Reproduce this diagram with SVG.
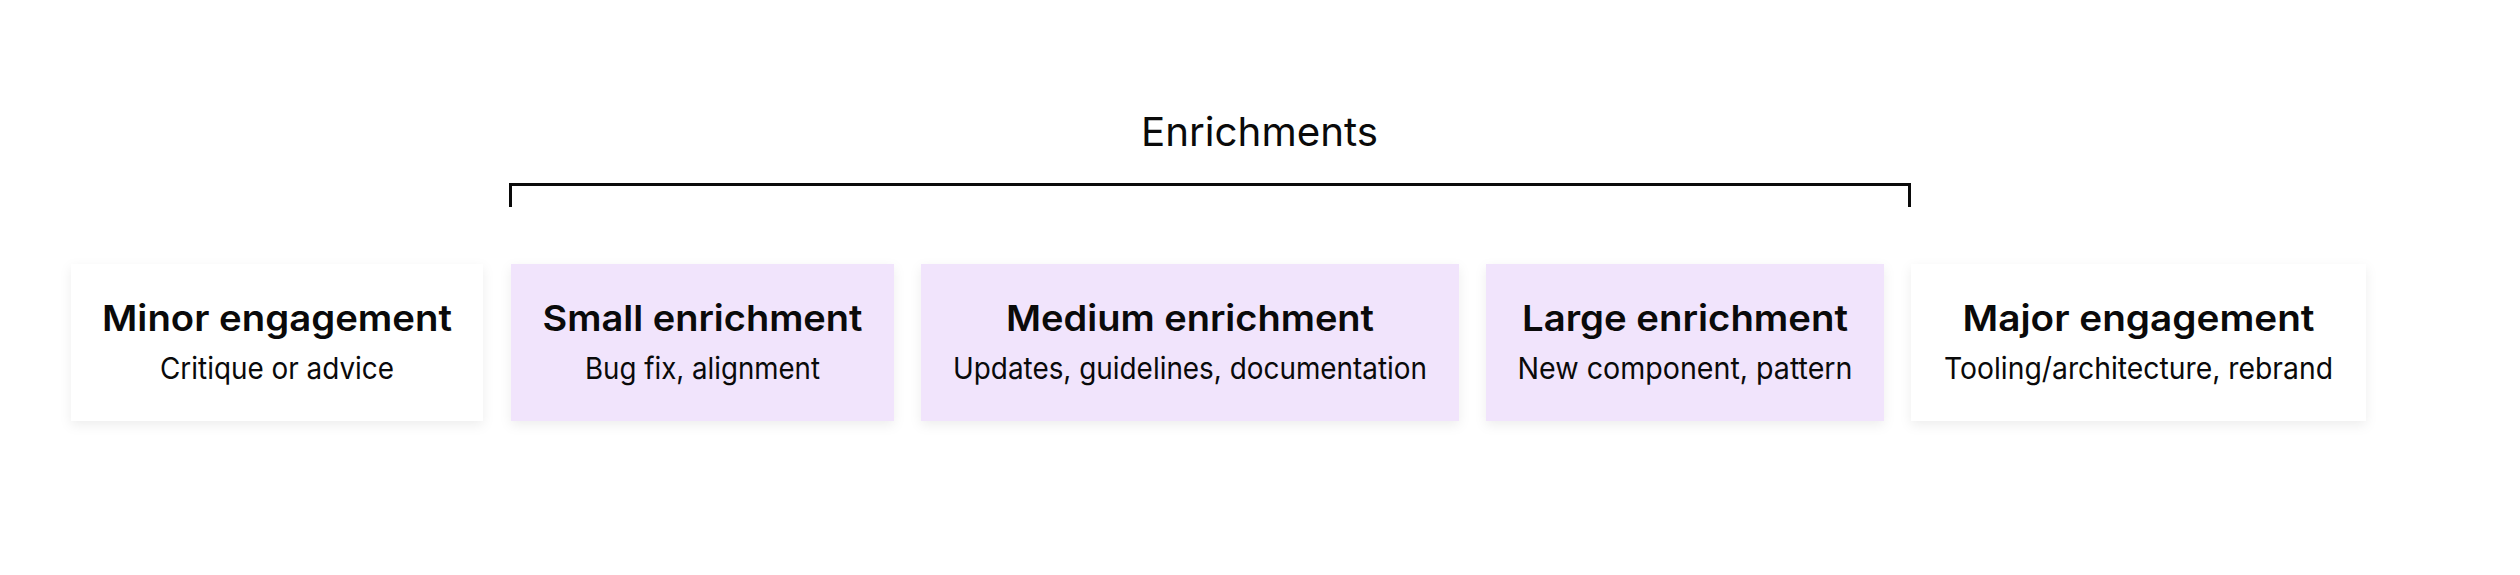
<svg xmlns="http://www.w3.org/2000/svg" width="2520" height="575" viewBox="0 0 2520 575">
<defs>
<filter id="sh" x="-10%" y="-20%" width="120%" height="150%">
<feDropShadow dx="0" dy="4" stdDeviation="6" flood-color="#000" flood-opacity="0.07"/>
</filter>
<style>
.box{filter:url(#sh)}
.w{fill:#ffffff}
.p{fill:#F1E4FC}
.t{font-family:Inter,"Liberation Sans",sans-serif;font-weight:600;font-size:36px;fill:#0a0a0a;text-anchor:middle}
.s{font-family:Inter,"Liberation Sans",sans-serif;font-weight:400;font-size:30px;fill:#0a0a0a;text-anchor:middle}
.h{font-family:Inter,"Liberation Sans",sans-serif;font-weight:400;font-size:40px;fill:#0a0a0a;text-anchor:middle}
.br{fill:none;stroke:#0a0a0a;stroke-width:3}
</style>
</defs>
<rect width="2520" height="575" fill="#ffffff"/>
<text class="h" x="1259.5" y="146" textLength="237" lengthAdjust="spacingAndGlyphs">Enrichments</text>
<g id="connectors">
<path class="br" d="M510.5,207 V184.5 H1909.5 V207"/>
</g>
<g id="minor">
<rect class="box w" x="71" y="264" width="412" height="157"/>
<text class="t" x="277" y="331" textLength="350" lengthAdjust="spacingAndGlyphs">Minor engagement</text>
<text class="s" x="277" y="379" textLength="234" lengthAdjust="spacingAndGlyphs">Critique or advice</text>
</g>
<g id="small">
<rect class="box p" x="511" y="264" width="383" height="157"/>
<text class="t" x="702.5" y="331" textLength="320" lengthAdjust="spacingAndGlyphs">Small enrichment</text>
<text class="s" x="702.5" y="379" textLength="235" lengthAdjust="spacingAndGlyphs">Bug fix, alignment</text>
</g>
<g id="medium">
<rect class="box p" x="921" y="264" width="538" height="157"/>
<text class="t" x="1190" y="331" textLength="368" lengthAdjust="spacingAndGlyphs">Medium enrichment</text>
<text class="s" x="1190" y="379" textLength="474" lengthAdjust="spacingAndGlyphs">Updates, guidelines, documentation</text>
</g>
<g id="large">
<rect class="box p" x="1486" y="264" width="398" height="157"/>
<text class="t" x="1685" y="331" textLength="326" lengthAdjust="spacingAndGlyphs">Large enrichment</text>
<text class="s" x="1685" y="379" textLength="335" lengthAdjust="spacingAndGlyphs">New component, pattern</text>
</g>
<g id="major">
<rect class="box w" x="1911" y="264" width="455" height="157"/>
<text class="t" x="2138.5" y="331" textLength="352" lengthAdjust="spacingAndGlyphs">Major engagement</text>
<text class="s" x="2138.5" y="379" textLength="389" lengthAdjust="spacingAndGlyphs">Tooling/architecture, rebrand</text>
</g>
</svg>
